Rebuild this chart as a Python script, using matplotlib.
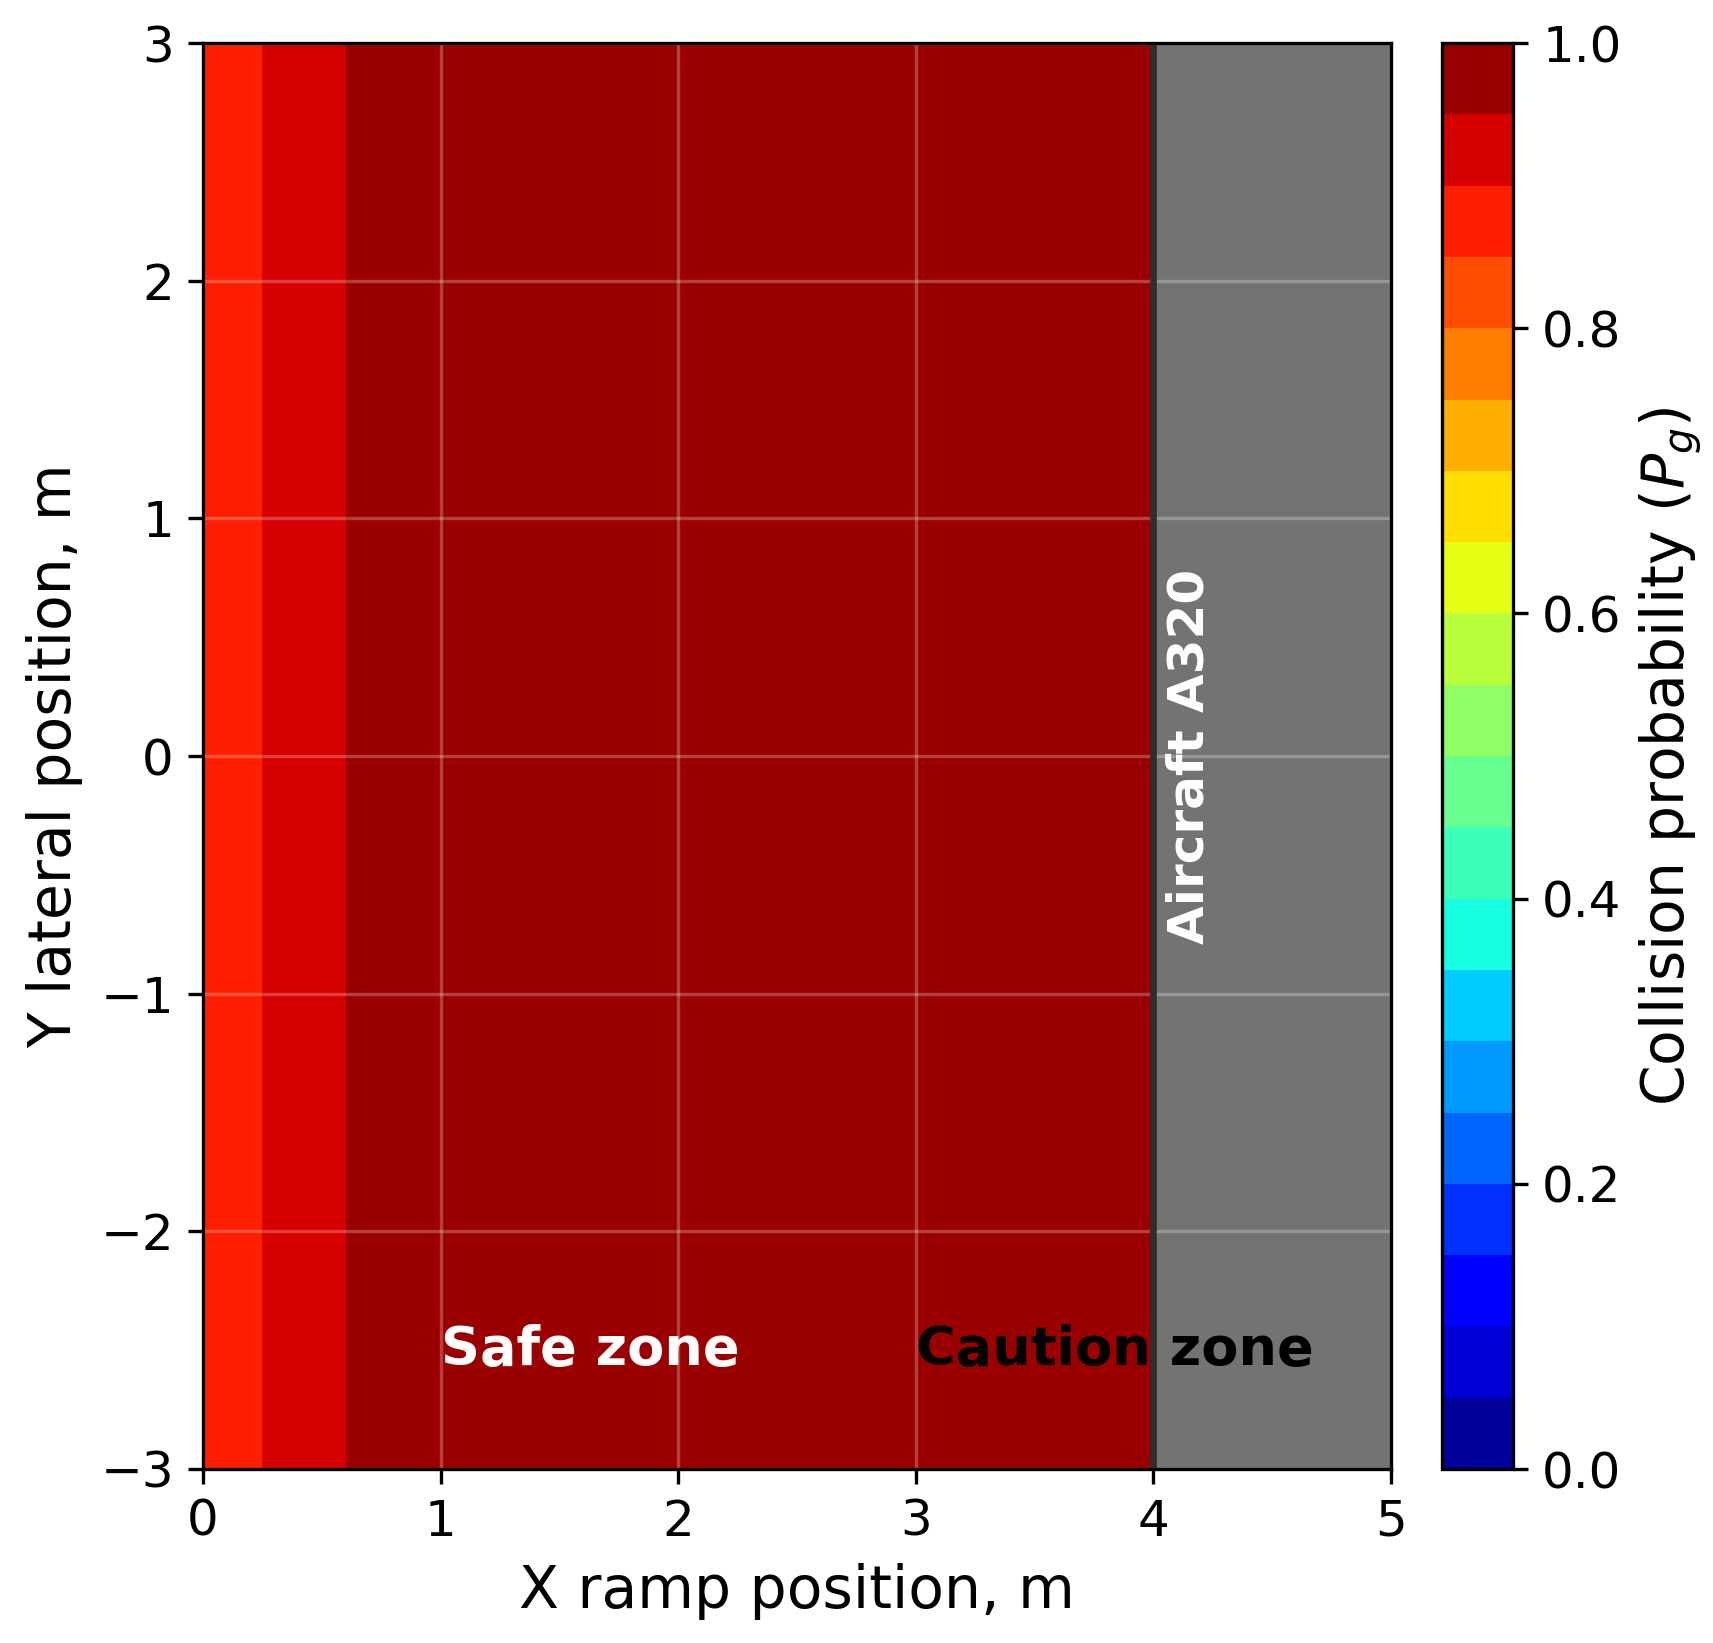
import matplotlib
matplotlib.use('Agg')
import matplotlib.pyplot as plt
import numpy as np
from matplotlib.colors import ListedColormap, BoundaryNorm

# collision probability along the ramp (constant across y)
x_edges = [0.0, 0.25, 0.6, 4.0]
y_edges = [-3.0, 3.0]
p_values = [0.87, 0.92, 0.98]

aircraft_x = [4.0, 5.0]
cbar_ticks = [0.0, 0.2, 0.4, 0.6, 0.8, 1.0]

# 20 filled levels of jet, like contourf
levels = np.linspace(0, 1, 21)
mids = (levels[:-1] + levels[1:]) / 2
cmap = ListedColormap(plt.cm.jet(mids))
norm = BoundaryNorm(levels, cmap.N)

fig = plt.figure(figsize=(1713/300, 1643/300), dpi=300)
ax = fig.add_axes([0.1185, 0.1059, 0.6935, 0.8679])

Z = np.array([p_values])
mesh = ax.pcolormesh(x_edges, y_edges, Z, cmap=cmap, norm=norm)

ax.axvspan(aircraft_x[0], aircraft_x[1], facecolor='#737373', edgecolor='none')
ax.axvline(aircraft_x[0], color='#2e2e2e', lw=1.6, zorder=2)

ax.set_xlim(0, 5)
ax.set_ylim(-3, 3)
ax.set_aspect('equal')
ax.grid(True, color='white', alpha=0.25, lw=0.8)

ax.text(1.0, -2.5, 'Safe zone', color='white', fontsize=13, fontweight='bold',
        ha='left', va='center')
ax.text(3.0, -2.5, 'Caution zone', color='black', fontsize=13, fontweight='bold',
        ha='left', va='center', zorder=3)
ax.text(4.15, 0.0, 'Aircraft A320', color='white', fontsize=12, fontweight='bold',
        ha='center', va='center', rotation=90)

ax.tick_params(labelsize=12)
ax.set_xlabel('X ramp position, m', fontsize=14)
ax.set_ylabel('Y lateral position, m', fontsize=14)

cax = fig.add_axes([0.8418, 0.1059, 0.0414, 0.8679])
cb = fig.colorbar(mesh, cax=cax, ticks=cbar_ticks)
cb.ax.minorticks_off()
cb.ax.tick_params(labelsize=12)
cb.set_label('Collision probability ($P_g$)', fontsize=14)

fig.savefig('out.png', dpi=300)
